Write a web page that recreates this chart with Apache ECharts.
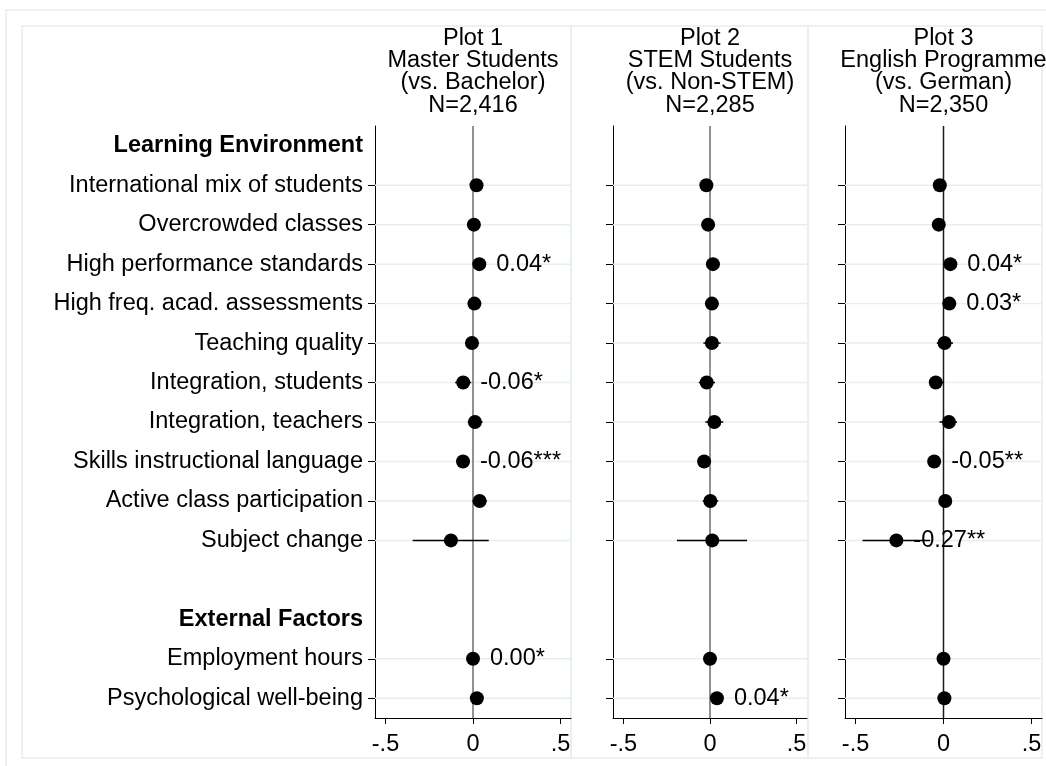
<!DOCTYPE html>
<html>
<head>
<meta charset="utf-8">
<script src="https://cdn.jsdelivr.net/npm/echarts@6/dist/echarts.min.js"></script>
<style>
  html, body { margin: 0; padding: 0; background: #fff; }
  #chart { width: 1046px; height: 766px; }
</style>
</head>
<body>
<div id="chart"></div>
<script>
// rows of the y axis, top to bottom ('' is the empty spacer row)
const rows = ['Learning Environment', 'International mix of students', 'Overcrowded classes',
  'High performance standards', 'High freq. acad. assessments', 'Teaching quality',
  'Integration, students', 'Integration, teachers', 'Skills instructional language',
  'Active class participation', 'Subject change', '', 'External Factors',
  'Employment hours', 'Psychological well-being'];
const headers = ['Learning Environment', 'External Factors'];
// the 12 estimated items, in the order of rows
const items = rows.filter(r => r !== '' && headers.indexOf(r) < 0);

const titles = [
  'Plot 1\nMaster Students\n(vs. Bachelor)\nN=2,416',
  'Plot 2\nSTEM Students\n(vs. Non-STEM)\nN=2,285',
  'Plot 3\nEnglish Programme\n(vs. German)\nN=2,350'
];

// coefficients per panel (same order as items)
const coef1 = [0.02, 0.005, 0.036, 0.008, -0.006, -0.056, 0.011, -0.057, 0.038, -0.126, 0.0, 0.022];
const lo1 = [-0.01, -0.025, 0.003, -0.02, -0.045, -0.102, -0.03, -0.09, -0.004, -0.345, 0.001, -0.01];
const hi1 = [0.05, 0.035, 0.069, 0.036, 0.035, -0.01, 0.055, -0.024, 0.08, 0.09, 0.006, 0.054];
const lab1 = ['', '', '0.04*', '', '', '-0.06*', '', '-0.06***', '', '', '0.00*', ''];

const coef2 = [-0.021, -0.011, 0.017, 0.011, 0.011, -0.019, 0.025, -0.034, 0.002, 0.013, 0.0, 0.04];
const lo2 = [-0.05, -0.04, -0.012, -0.018, -0.038, -0.065, -0.027, -0.07, -0.042, -0.191, -0.004, 0.006];
const hi2 = [0.008, 0.018, 0.046, 0.04, 0.061, 0.029, 0.077, 0.002, 0.048, 0.214, 0.004, 0.074];
const lab2 = ['', '', '', '', '', '', '', '', '', '', '', '0.04*'];

const coef3 = [-0.021, -0.027, 0.039, 0.033, 0.006, -0.044, 0.031, -0.053, 0.01, -0.268, 0.0, 0.005];
const lo3 = [-0.05, -0.058, 0.006, 0.002, -0.038, -0.082, -0.023, -0.088, -0.025, -0.46, -0.004, -0.03];
const hi3 = [0.008, 0.004, 0.072, 0.064, 0.054, 0.002, 0.077, -0.018, 0.045, -0.076, 0.004, 0.04];
const lab3 = ['', '', '0.04*', '0.03*', '', '', '', '-0.05**', '', '-0.27**', '', ''];

const xTicks = [-0.5, 0, 0.5];
const xTickLabels = ['-.5', '0', '.5'];

const panels = [
  { coef: coef1, lo: lo1, hi: hi1, lab: lab1 },
  { coef: coef2, lo: lo2, hi: hi2, lab: lab2 },
  { coef: coef3, lo: lo3, hi: hi3, lab: lab3 }
];

const FONT = '"Liberation Sans", Arial, Helvetica, sans-serif';
const FS = 23.5;
const gridLeft = [375, 613, 845];
const gridWidth = [196, 194, 197];
const zeroColor = ['#6e6e6e', '#6e6e6e', '#1a1a1a'];
const isItem = v => items.indexOf(v) >= 0;
const rowOf = name => rows.indexOf(name);

const myChart = echarts.init(document.getElementById('chart'));

let grid = [], xAxis = [], yAxis = [], series = [], title = [];
panels.forEach((p, i) => {
  grid.push({ left: gridLeft[i], width: gridWidth[i], top: 126, height: 592 });
  title.push({
    text: titles[i],
    left: gridLeft[i] + gridWidth[i] / 2,
    top: 27,
    padding: 0,
    textAlign: 'center',
    textStyle: { fontFamily: FONT, fontSize: FS, fontWeight: 'normal', color: '#000', lineHeight: 22.4 }
  });
  xAxis.push({
    type: 'value', gridIndex: i, min: -0.56, max: 0.56,
    axisLine: { show: true, onZero: false, lineStyle: { color: '#000', width: 1 } },
    axisTick: { show: true, customValues: xTicks, length: 6, lineStyle: { color: '#000' } },
    axisLabel: {
      customValues: xTicks, margin: 15, color: '#000', fontFamily: FONT, fontSize: FS,
      formatter: v => xTickLabels[xTicks.indexOf(v)]
    },
    splitLine: { show: false }
  });
  yAxis.push({
    type: 'category', gridIndex: i, data: rows, inverse: true,
    axisLine: { show: true, onZero: false, lineStyle: { color: '#000', width: 1 } },
    axisTick: { show: true, alignWithLabel: true, length: 7, interval: (idx, v) => isItem(v), lineStyle: { color: '#000' } },
    axisLabel: {
      show: i === 0, interval: 0, margin: 12, color: '#000', fontFamily: FONT, fontSize: FS,
      formatter: v => headers.indexOf(v) >= 0 ? '{h|' + v + '}' : v,
      rich: { h: { fontFamily: FONT, fontSize: FS, fontWeight: 'bold', color: '#000' } }
    },
    splitLine: { show: false }
  });

  // light horizontal gridlines at item rows
  series.push({
    type: 'custom', xAxisIndex: i, yAxisIndex: i, silent: true,
    data: items.map(n => [0, rowOf(n)]),
    renderItem: (params, api) => {
      const cs = params.coordSys;
      const y = api.coord([0, api.value(1)])[1];
      return { type: 'line', shape: { x1: cs.x, y1: y, x2: cs.x + cs.width, y2: y },
        style: { stroke: '#e6eef1', lineWidth: 1.5 } };
    }
  });
  // reference line at zero
  series.push({
    type: 'custom', xAxisIndex: i, yAxisIndex: i, silent: true,
    data: [[0, 0]],
    renderItem: (params, api) => {
      const cs = params.coordSys;
      const x = api.coord([api.value(0), 0])[0];
      return { type: 'line', shape: { x1: x, y1: cs.y, x2: x, y2: cs.y + cs.height },
        style: { stroke: zeroColor[i], lineWidth: 1.5 } };
    }
  });
  // confidence intervals
  series.push({
    type: 'custom', xAxisIndex: i, yAxisIndex: i, silent: true,
    encode: { x: [0, 1], y: 2 },
    data: items.map((n, k) => [p.lo[k], p.hi[k], rowOf(n)]),
    renderItem: (params, api) => {
      const a = api.coord([api.value(0), api.value(2)]);
      const b = api.coord([api.value(1), api.value(2)]);
      return { type: 'line', shape: { x1: a[0], y1: a[1], x2: b[0], y2: b[1] },
        style: { stroke: '#000', lineWidth: 1.5 } };
    }
  });
  // point estimates
  series.push({
    type: 'scatter', xAxisIndex: i, yAxisIndex: i, silent: true,
    symbol: 'circle', symbolSize: 14,
    itemStyle: { color: '#000', opacity: 1 },
    data: items.map((n, k) => [p.coef[k], rowOf(n), p.lab[k]]),
    label: {
      show: true, position: 'right', distance: 10, color: '#000', opacity: 1,
      fontFamily: FONT, fontSize: FS,
      formatter: q => q.data[2]
    }
  });
});

const frame = { fill: 'none', stroke: '#e6eef1', lineWidth: 1.5 };
let option = {
  animation: false,
  backgroundColor: '#fff',
  title: title,
  grid: grid,
  xAxis: xAxis,
  yAxis: yAxis,
  series: series,
  graphic: [
    { type: 'rect', shape: { x: 6, y: 10, width: 1060, height: 780 }, style: frame, silent: true },
    { type: 'rect', shape: { x: 22, y: 26, width: 549, height: 732 }, style: frame, silent: true },
    { type: 'rect', shape: { x: 571, y: 26, width: 237, height: 732 }, style: frame, silent: true },
    { type: 'rect', shape: { x: 808, y: 26, width: 234, height: 732 }, style: frame, silent: true }
  ]
};
myChart.setOption(option);
</script>
</body>
</html>
